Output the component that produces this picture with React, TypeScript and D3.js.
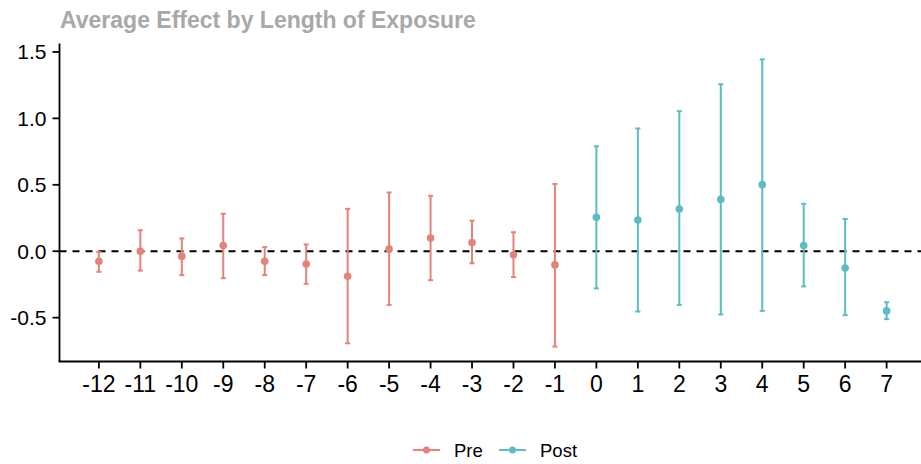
import React from "react";
import * as d3 from "d3";

const periods = [-12, -11, -10, -9, -8, -7, -6, -5, -4, -3, -2, -1, 0, 1, 2, 3, 4, 5, 6, 7];
const estimates = [-0.076, 0.0, -0.039, 0.043, -0.076, -0.096, -0.188, 0.016, 0.1, 0.066, -0.026, -0.103, 0.255, 0.235, 0.317, 0.39, 0.501, 0.043, -0.126, -0.449];
const upperCI = [-0.006, 0.158, 0.096, 0.282, 0.031, 0.051, 0.319, 0.442, 0.417, 0.23, 0.143, 0.506, 0.79, 0.924, 1.054, 1.257, 1.444, 0.357, 0.243, -0.384];
const lowerCI = [-0.155, -0.146, -0.18, -0.203, -0.18, -0.245, -0.693, -0.404, -0.218, -0.091, -0.195, -0.718, -0.28, -0.454, -0.404, -0.476, -0.449, -0.265, -0.481, -0.511];
const yTicks = [-0.5, 0.0, 0.5, 1.0, 1.5];
const groups = ["Pre", "Post"];
const colors = ["#e3837a", "#5bbcc2"];
const title = "Average Effect by Length of Exposure";

export default function App() {
  const W = 921, H = 464;
  const left = 59.5, right = 926, top = 43.5, bottom = 361.5;
  const x = d3.scaleLinear().domain([-12.95, 7.95]).range([left, right]);
  const y = d3.scaleLinear().domain([-0.83, 1.5635]).range([bottom, top]);
  const font = "'Liberation Sans', Arial, sans-serif";
  const color = (p: number) => (p < 0 ? colors[0] : colors[1]);
  const capW = 2.5;

  return (
    <svg width={W} height={H} style={{ position: "absolute", left: 0, top: 0 }} fontFamily={font}>
      <rect width={W} height={H} fill="#fff" />
      <text x={60} y={28} fontSize={23} fontWeight="bold" fill="#a8a8a8">{title}</text>
      {/* zero line */}
      <line x1={left} x2={W} y1={y(0)} y2={y(0)} stroke="#000" strokeWidth={1.8} strokeDasharray="7,6" />
      {/* error bars */}
      {periods.map((p, i) => (
        <g key={p} stroke={color(p)} strokeWidth={2}>
          <line x1={x(p)} x2={x(p)} y1={y(upperCI[i])} y2={y(lowerCI[i])} />
          <line x1={x(p) - capW} x2={x(p) + capW} y1={y(upperCI[i])} y2={y(upperCI[i])} />
          <line x1={x(p) - capW} x2={x(p) + capW} y1={y(lowerCI[i])} y2={y(lowerCI[i])} />
          <circle cx={x(p)} cy={y(estimates[i])} r={3.8} fill={color(p)} stroke="none" />
        </g>
      ))}
      {/* axes */}
      <line x1={left} x2={left} y1={top} y2={bottom} stroke="#000" strokeWidth={1.8} />
      <line x1={left - 0.9} x2={W} y1={bottom} y2={bottom} stroke="#000" strokeWidth={1.8} />
      {yTicks.map((t) => (
        <g key={t}>
          <line x1={left - 7} x2={left} y1={y(t)} y2={y(t)} stroke="#000" strokeWidth={1.8} />
          <text x={left - 13} y={y(t)} dy="0.36em" textAnchor="end" fontSize={21} fill="#000">
            {t.toFixed(1)}
          </text>
        </g>
      ))}
      {periods.map((p) => (
        <g key={"xt" + p}>
          <line x1={x(p)} x2={x(p)} y1={bottom} y2={bottom + 7} stroke="#000" strokeWidth={1.8} />
          <text x={x(p)} y={392} textAnchor="middle" fontSize={23} fill="#000">
            {String(p)}
          </text>
        </g>
      ))}
      {/* legend */}
      {groups.map((g, i) => {
        const lx = i === 0 ? 413 : 499;
        return (
          <g key={g}>
            <line x1={lx} x2={lx + 27} y1={450} y2={450} stroke={colors[i]} strokeWidth={2} />
            <circle cx={lx + 13.5} cy={450} r={3.5} fill={colors[i]} />
            <text x={lx + 41} y={450} dy="0.36em" fontSize={18.5} fill="#000">{g}</text>
          </g>
        );
      })}
    </svg>
  );
}
